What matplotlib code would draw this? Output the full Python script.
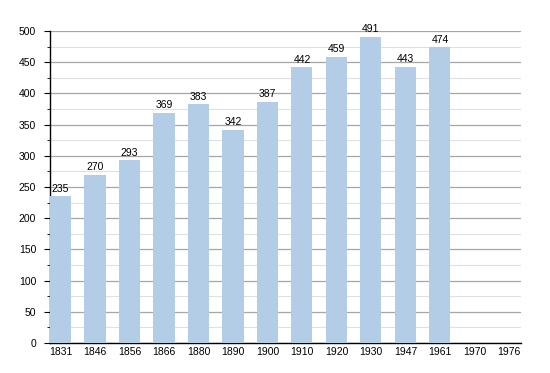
import matplotlib
matplotlib.use("Agg")
import matplotlib.pyplot as plt
from matplotlib.ticker import MultipleLocator

years = ["1831", "1846", "1856", "1866", "1880", "1890", "1900",
         "1910", "1920", "1930", "1947", "1961", "1970", "1976"]
population = [235, 270, 293, 369, 383, 342, 387, 442, 459, 491, 443, 474, None, None]

plt.rcParams['font.family'] = ['Liberation Sans', 'DejaVu Sans']

fig = plt.figure(figsize=(5.5, 3.73), dpi=100)
ax = fig.add_axes([50/550, 30/373, 471/550, 312/373])

x = list(range(len(years)))
# only years with a known value get a bar
xs = [i for i, v in zip(x, population) if v is not None]
vals = [v for v in population if v is not None]
bars = ax.bar(xs, vals, width=0.61, color="#b3cde6", zorder=3)

for xi, v in zip(xs, vals):
    ax.text(xi, v + 4, str(v), ha="center", va="bottom", fontsize=7.5, zorder=4)

ax.set_xlim(-0.305, 13.35)
ax.set_ylim(0, 500)
ax.set_xticks(x)
ax.set_xticklabels(years)
ax.yaxis.set_major_locator(MultipleLocator(50))
ax.yaxis.set_minor_locator(MultipleLocator(25))

ax.grid(axis="y", which="major", color="#a6a6a6", linewidth=0.9, zorder=0)
ax.grid(axis="y", which="minor", color="#e0e0e0", linewidth=0.8, zorder=0)

for s in ["top", "right"]:
    ax.spines[s].set_visible(False)
ax.spines["left"].set_linewidth(1.0)
ax.spines["bottom"].set_linewidth(1.0)

ax.tick_params(axis="x", length=0, labelsize=7.5, pad=3)
ax.tick_params(axis="y", which="major", length=4, labelsize=7.5, pad=6)
ax.tick_params(axis="y", which="minor", length=2)

fig.savefig("out.png", dpi=100)
